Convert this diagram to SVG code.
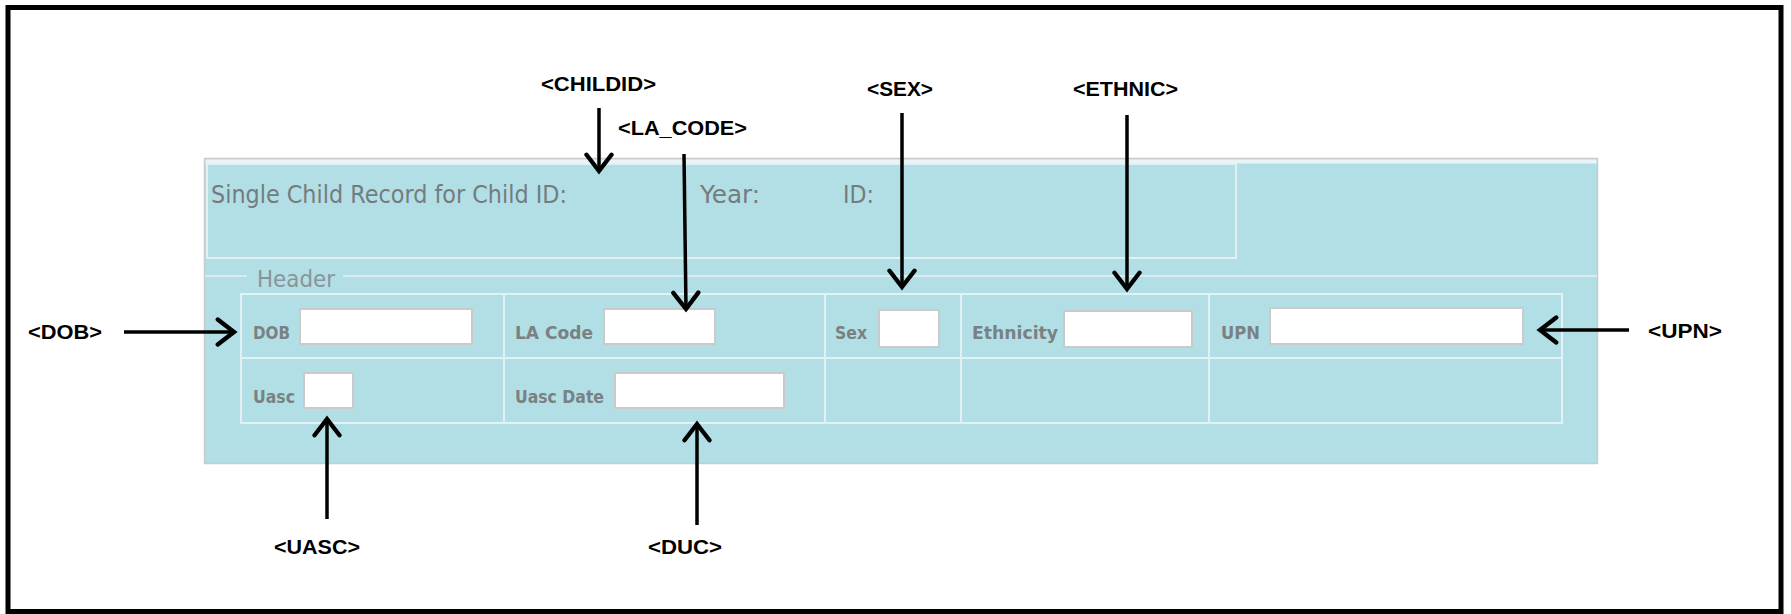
<svg xmlns="http://www.w3.org/2000/svg" width="1791" height="614" viewBox="0 0 1791 614">
<defs>
<style>
.call{font-family:"Liberation Sans",Arial,sans-serif;font-weight:bold;font-size:20px;fill:#000}
.form{font-family:"DejaVu Sans",Verdana,sans-serif;fill:#747c7e}
.lbl{font-family:"DejaVu Sans",Verdana,sans-serif;font-weight:bold;font-size:18px;fill:#7a8183}
.inp{fill:#fff;stroke:#c9cbcb;stroke-width:2}
.grid{fill:none;stroke:#e4f1f3;stroke-width:2}
.conn{stroke:#000;stroke-width:3.5;fill:none;marker-end:url(#ah)}
</style>
<marker id="ah" markerUnits="userSpaceOnUse" markerWidth="30" markerHeight="30" viewBox="-16 -12 20 24" refX="0" refY="0" orient="auto">
<path d="M-13,-10 L0,0 L-13,10" fill="none" stroke="#000" stroke-width="3.5" stroke-linecap="round" stroke-linejoin="miter"/>
</marker>
</defs>
<rect x="0" y="0" width="1791" height="614" fill="#fff"/>
<rect id="frame" x="8" y="7.5" width="1773" height="604" fill="none" stroke="#000" stroke-width="5"/>
<g id="panel">
<rect x="204.5" y="158.5" width="1393" height="305" fill="#b1dfe5" stroke="#c6cdcf" stroke-width="1.5"/>
<rect x="205.5" y="159.5" width="1391" height="4" fill="#e8f4f6"/>
<rect x="207" y="164" width="1029" height="94" fill="none" stroke="#e2f0f2" stroke-width="2"/>
<text class="form" x="211" y="203" font-size="24" textLength="356" lengthAdjust="spacingAndGlyphs">Single Child Record for Child ID:</text>
<text class="form" x="700" y="203" font-size="24" textLength="60" lengthAdjust="spacingAndGlyphs">Year:</text>
<text class="form" x="843" y="203" font-size="24" textLength="31" lengthAdjust="spacingAndGlyphs">ID:</text>
<path d="M205,276 H247 M343,276 H1597" stroke="#dbeaec" stroke-width="2" fill="none"/>
<text class="form" x="257" y="287" font-size="23" style="fill:#8a9497" textLength="78" lengthAdjust="spacingAndGlyphs">Header</text>
</g>
<g id="grid">
<rect class="grid" x="241" y="294" width="1321" height="129"/>
<path class="grid" d="M241,358 H1562 M504,294 V423 M825,294 V423 M961,294 V423 M1209,294 V423"/>
</g>
<g id="field-dob">
<text class="lbl" x="253" y="339" textLength="37" lengthAdjust="spacingAndGlyphs">DOB</text>
<rect class="inp" x="300" y="309" width="172" height="35"/>
</g>
<g id="field-lacode">
<text class="lbl" x="515" y="339" textLength="78" lengthAdjust="spacingAndGlyphs">LA Code</text>
<rect class="inp" x="604" y="309" width="111" height="35"/>
</g>
<g id="field-sex">
<text class="lbl" x="835" y="339" textLength="32" lengthAdjust="spacingAndGlyphs">Sex</text>
<rect class="inp" x="879" y="310" width="60" height="37"/>
</g>
<g id="field-ethnicity">
<text class="lbl" x="972" y="339" textLength="86" lengthAdjust="spacingAndGlyphs">Ethnicity</text>
<rect class="inp" x="1064" y="311" width="128" height="36"/>
</g>
<g id="field-upn">
<text class="lbl" x="1221" y="339" textLength="39" lengthAdjust="spacingAndGlyphs">UPN</text>
<rect class="inp" x="1270" y="308" width="253" height="36"/>
</g>
<g id="field-uasc">
<text class="lbl" x="253" y="403" textLength="42" lengthAdjust="spacingAndGlyphs">Uasc</text>
<rect class="inp" x="304" y="373" width="49" height="35"/>
</g>
<g id="field-uascdate">
<text class="lbl" x="515" y="403" textLength="89" lengthAdjust="spacingAndGlyphs">Uasc Date</text>
<rect class="inp" x="615" y="373" width="169" height="35"/>
</g>
<g id="label-childid"><text class="call" x="541" y="91" textLength="115" lengthAdjust="spacingAndGlyphs">&lt;CHILDID&gt;</text></g>
<g id="label-lacode"><text class="call" x="618" y="135" textLength="129" lengthAdjust="spacingAndGlyphs">&lt;LA_CODE&gt;</text></g>
<g id="label-sex"><text class="call" x="867" y="96" textLength="66" lengthAdjust="spacingAndGlyphs">&lt;SEX&gt;</text></g>
<g id="label-ethnic"><text class="call" x="1073" y="96" textLength="105" lengthAdjust="spacingAndGlyphs">&lt;ETHNIC&gt;</text></g>
<g id="label-dob"><text class="call" x="28" y="339" textLength="74" lengthAdjust="spacingAndGlyphs">&lt;DOB&gt;</text></g>
<g id="label-upn"><text class="call" x="1648" y="338" textLength="74" lengthAdjust="spacingAndGlyphs">&lt;UPN&gt;</text></g>
<g id="label-uasc"><text class="call" x="274" y="554" textLength="86" lengthAdjust="spacingAndGlyphs">&lt;UASC&gt;</text></g>
<g id="label-duc"><text class="call" x="648" y="554" textLength="74" lengthAdjust="spacingAndGlyphs">&lt;DUC&gt;</text></g>
<g id="connectors">
<line class="conn" x1="599" y1="108" x2="599" y2="171"/>
<line class="conn" x1="684" y1="154" x2="686" y2="309"/>
<line class="conn" x1="902" y1="113" x2="902" y2="287"/>
<line class="conn" x1="1127" y1="115" x2="1127" y2="289"/>
<line class="conn" x1="124" y1="332" x2="234" y2="332"/>
<line class="conn" x1="1629" y1="330" x2="1540" y2="330"/>
<line class="conn" x1="327" y1="519" x2="327" y2="419"/>
<line class="conn" x1="697" y1="525" x2="697" y2="424"/>
</g>
</svg>
